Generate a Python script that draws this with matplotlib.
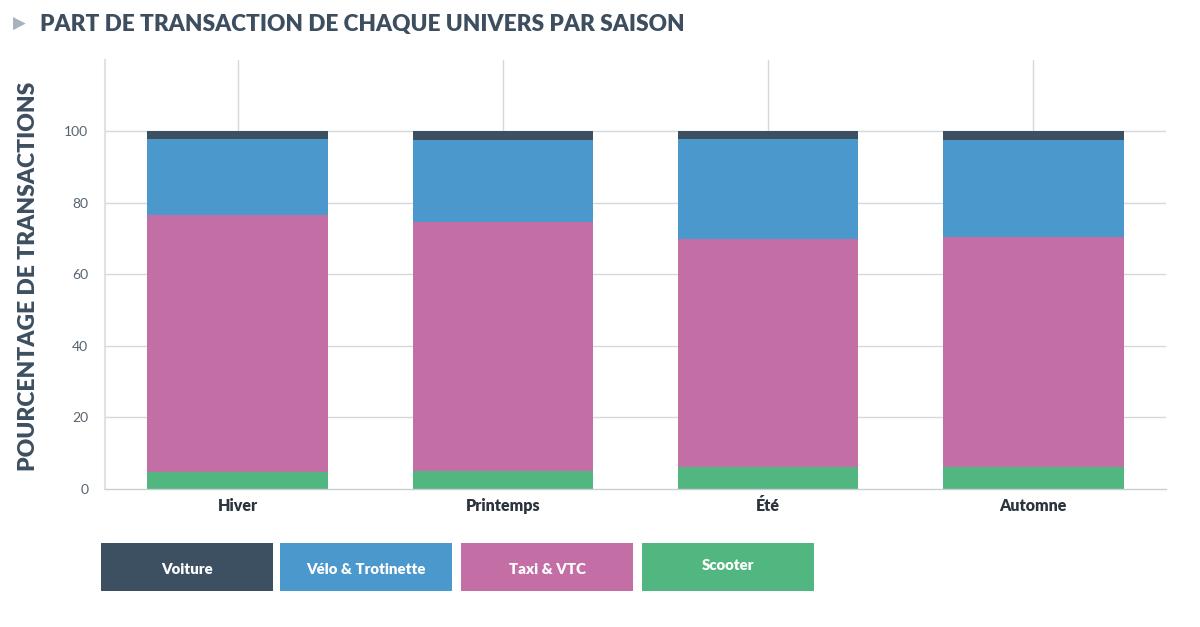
import matplotlib
matplotlib.use("Agg")
import matplotlib.pyplot as plt
from matplotlib.patches import Rectangle
import numpy as np

seasons = ["Hiver", "Printemps", "Été", "Automne"]
series_names = ["Scooter", "Taxi & VTC", "Vélo & Trotinette", "Voiture"]
scooter = [4.6, 4.9, 6.0, 6.0]
taxi = [72.1, 69.6, 64.0, 64.5]
velo = [21.1, 23.0, 27.8, 27.0]
voiture = [2.2, 2.5, 2.2, 2.5]
yticks = [0, 20, 40, 60, 80, 100]
legend_order = ["Voiture", "Vélo & Trotinette", "Taxi & VTC", "Scooter"]

colors = {
    "Voiture": "#3d5061",
    "Vélo & Trotinette": "#4b98cc",
    "Taxi & VTC": "#c36fa6",
    "Scooter": "#51b67f",
}

plt.rcParams['font.family'] = ['Lato', 'DejaVu Sans']

fig = plt.figure(figsize=(12, 6.27), dpi=100)
ax = fig.add_axes([105/1200, 1 - 488.5/627, (1166-105)/1200, (488.5-60)/627])

x = np.arange(len(seasons))
data = {"Scooter": scooter, "Taxi & VTC": taxi, "Vélo & Trotinette": velo, "Voiture": voiture}
bottom = np.zeros(len(seasons))
for name in series_names:
    vals = np.array(data[name])
    ax.bar(x, vals, bottom=bottom, width=0.68, color=colors[name], zorder=3,
           edgecolor="none")
    bottom += vals

ax.set_xlim(-0.5, len(seasons) - 0.5)
ax.set_ylim(0, 120)
ax.set_yticks(yticks)
ax.set_yticklabels([str(t) for t in yticks], fontsize=10, color="#56636f")
ax.set_xticks(x)
ax.set_xticklabels(seasons, fontsize=11.5, fontweight="heavy", color="#2b333b")
ax.tick_params(axis="both", length=0)
ax.tick_params(axis="y", pad=12)
ax.tick_params(axis="x", pad=7)

for t in yticks:
    if t > 0:
        ax.axhline(t, color="#d3d8de", lw=1, zorder=1)
for xi in x:
    ax.axvline(xi, color="#d3d8de", lw=1, zorder=1)

for s in ["top", "right"]:
    ax.spines[s].set_visible(False)
ax.spines["left"].set_color("#dfe3e8")
ax.spines["left"].set_linewidth(1.5)
ax.spines["bottom"].set_color("#c9ced6")
ax.spines["bottom"].set_linewidth(1)
ax.spines["bottom"].set_zorder(4)

ax.set_ylabel("POURCENTAGE DE TRANSACTIONS", fontsize=16.5, fontweight="heavy",
              color="#3d4f5f")
ax.yaxis.set_label_coords(-66/1061, 0.5 - (276-274)/428)

# Title
fig.text(13/1200, 1 - 24/627, "\u25B6", fontsize=12, color="#a9b1ba",
         va="center", ha="left", family=["DejaVu Sans"])
fig.text(40/1200, 1 - 24/627, "PART DE TRANSACTION DE CHAQUE UNIVERS PAR SAISON",
         fontsize=16.3, fontweight="heavy", color="#3d4f5f", va="center", ha="left")

# Legend boxes
box_x = [101, 280, 461, 642]
text_y = [569, 569, 569, 566]
box_w = 172
box_y0, box_y1 = 543, 591
for name, bx, ty in zip(legend_order, box_x, text_y):
    fig.patches.append(Rectangle((bx/1200, 1 - box_y1/627), box_w/1200,
                                 (box_y1 - box_y0)/627, transform=fig.transFigure,
                                 facecolor=colors[name], edgecolor="none"))
    fig.text((bx + box_w/2)/1200, 1 - ty/627, name,
             fontsize=10.8, fontweight="heavy", color="white", ha="center", va="center")

fig.savefig("out.png", dpi=100)
